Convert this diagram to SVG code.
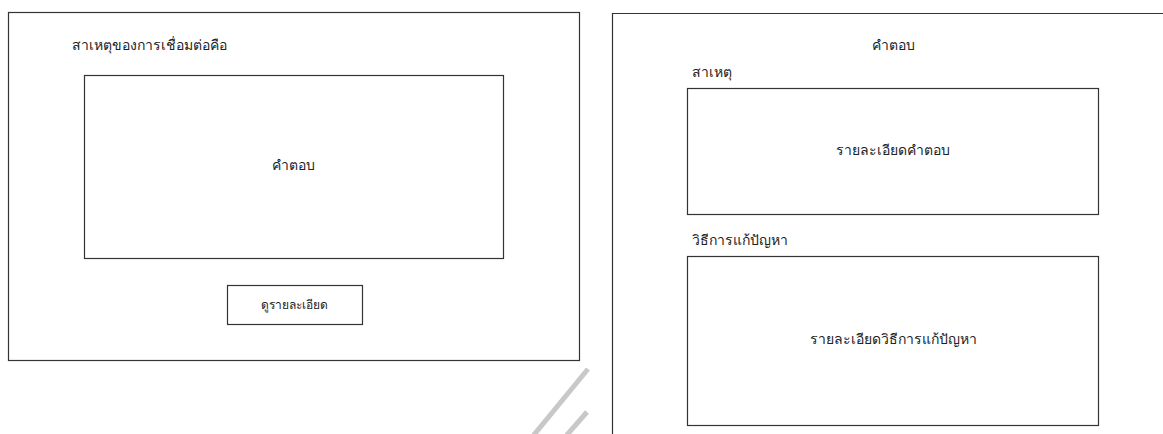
<svg xmlns="http://www.w3.org/2000/svg" width="1163" height="434" viewBox="0 0 1163 434">
<style>
.box{fill:#fff;stroke:#333;stroke-width:1.2}
.t{font-family:"Noto Sans","DejaVu Sans","Liberation Sans",sans-serif;font-size:14px;fill:#222}
.c{text-anchor:middle}
.s{font-size:12px}
.wm{stroke:#c8c8c8;stroke-width:5;fill:none}
</style>
<rect width="1163" height="434" fill="#fff"/>
<g id="left-frame">
<rect class="box" x="8.5" y="12.5" width="571" height="348"/>
<text class="t" x="72" y="50">สาเหตุของการเชื่อมต่อคือ</text>
</g>
<g id="answer-box">
<rect class="box" x="84.5" y="75.5" width="419" height="183"/>
<text class="t c" x="293" y="170">คำตอบ</text>
</g>
<g id="detail-button">
<rect class="box" x="227.5" y="285.5" width="135" height="39"/>
<text class="t c s" x="294" y="309">ดูรายละเอียด</text>
</g>
<g id="watermark">
<path class="wm" d="M588 369 L533 436"/>
<path class="wm" d="M587 412 L566 436"/>
</g>
<g id="right-frame">
<path class="box" d="M1170 13.5 H612.5 V440"/>
<text class="t c" x="893" y="50">คำตอบ</text>
<text class="t" x="692" y="77">สาเหตุ</text>
<text class="t" x="692" y="245">วิธีการแก้ปัญหา</text>
</g>
<g id="cause-detail">
<rect class="box" x="687.5" y="88.5" width="411" height="126"/>
<text class="t c" x="893" y="155">รายละเอียดคำตอบ</text>
</g>
<g id="solution-detail">
<rect class="box" x="687.5" y="256.5" width="411" height="169"/>
<text class="t c" x="893" y="344">รายละเอียดวิธีการแก้ปัญหา</text>
</g>
<g id="connectors"></g>
</svg>
